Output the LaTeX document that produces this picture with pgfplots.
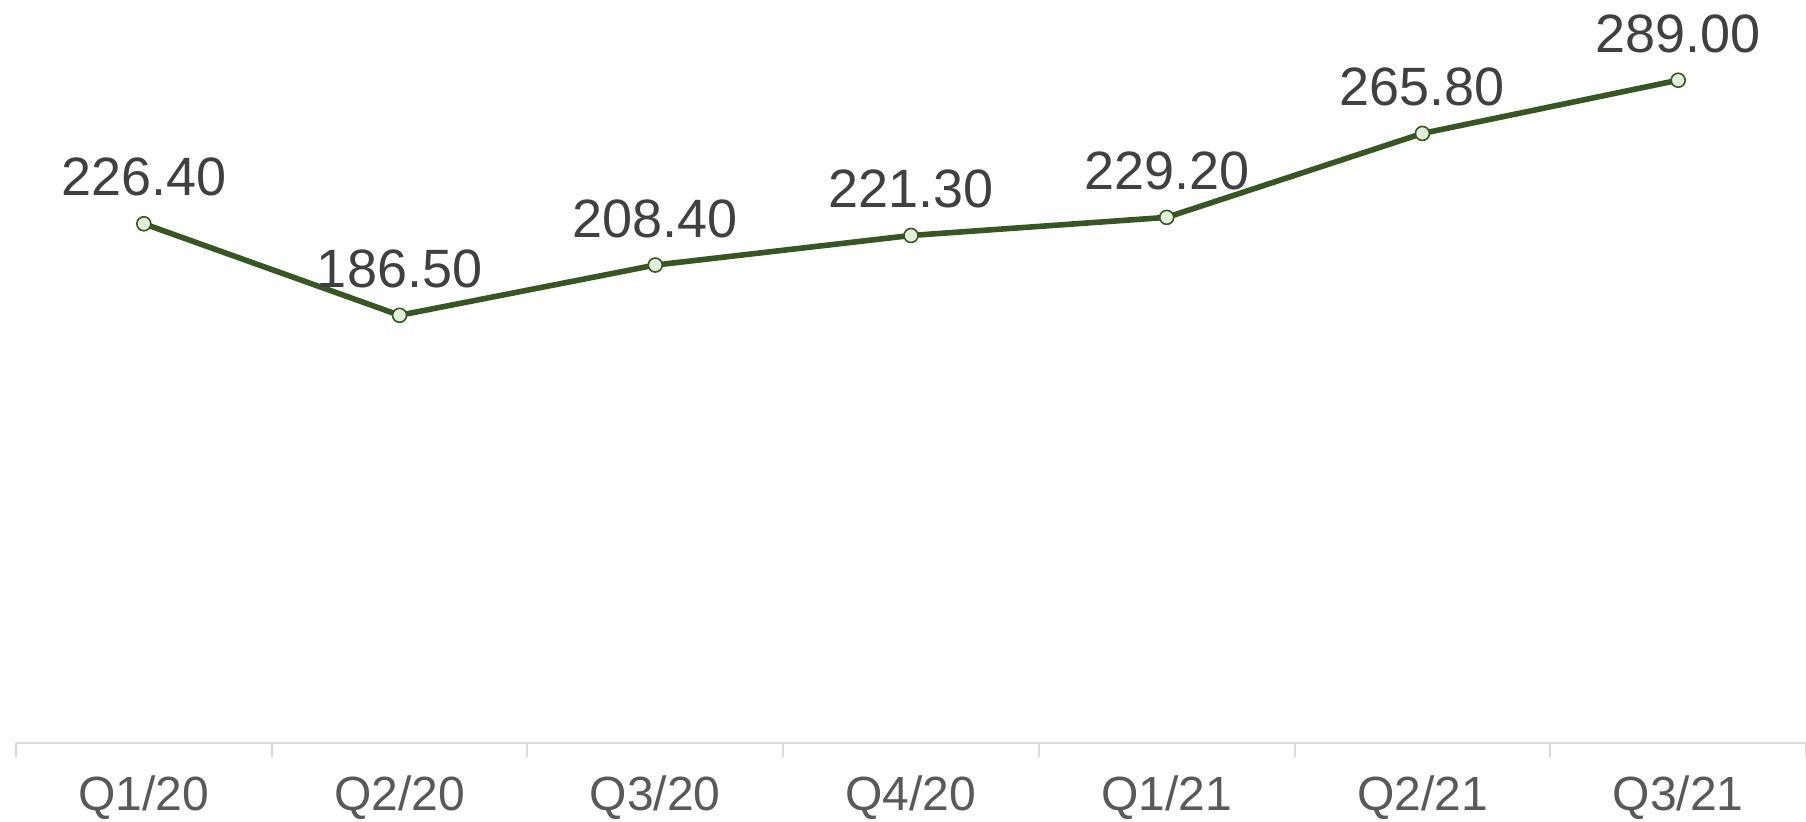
\documentclass[border=0pt]{standalone}
\usepackage{pgfplots}
\pgfplotsset{compat=1.18}
\usepackage{fontspec}
\setmainfont{Liberation Sans}
\definecolor{linegreen}{HTML}{375623}
\definecolor{markfill}{HTML}{E2EFDA}
\definecolor{axisgray}{HTML}{D9D9D9}
\definecolor{ticklab}{HTML}{595959}
\definecolor{datalab}{HTML}{404040}
\begin{document}
\begin{tikzpicture}
\useasboundingbox (-8pt,-39.5pt) rectangle (895pt,371.5pt);
\begin{axis}[
  scale only axis,
  width=895pt, height=344pt,
  xmin=-0.5, xmax=6.5,
  ymin=0, ymax=300,
  clip=false,
  axis x line=bottom,
  hide y axis,
  axis line style={-, draw=axisgray, line width=1pt},
  xtick={0,...,6},
  xticklabels={Q1/20,Q2/20,Q3/20,Q4/20,Q1/21,Q2/21,Q3/21},
  major tick length=0pt,
  minor xtick={-0.5,0.5,...,6.5},
  minor tick length=7pt,
  tick align=outside,
  minor tick style={draw=axisgray, line width=1pt},
  xticklabel style={font=\fontsize{24pt}{28pt}\selectfont, text=ticklab, anchor=base, yshift=-34pt},
  nodes near coords={\pgfmathprintnumber[fixed,fixed zerofill,precision=2,assume math mode=true]{\pgfplotspointmeta}},
  nodes near coords style={font=\fontsize{27pt}{31pt}\selectfont, text=datalab, anchor=base, yshift=14pt},
]
\addplot[color=linegreen, line width=2.8pt, mark=*, mark size=3.5pt,
  mark options={fill=markfill, draw=linegreen, line width=0.8pt}]
  coordinates {(0,226.4) (1,186.5) (2,208.4) (3,221.3) (4,229.2) (5,265.8) (6,289.0)};
\end{axis}
\end{tikzpicture}
\end{document}
